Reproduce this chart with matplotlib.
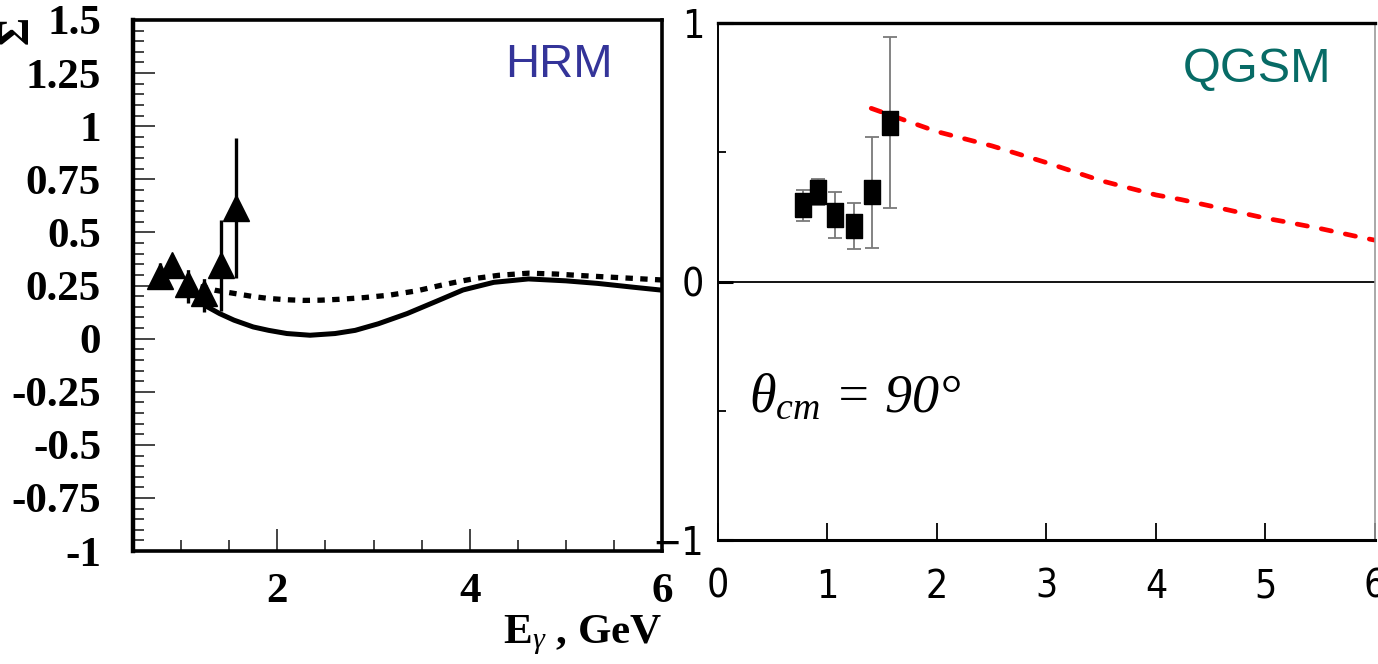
import matplotlib
matplotlib.use('Agg')
import matplotlib.pyplot as plt
from matplotlib.ticker import MultipleLocator, FixedLocator

plt.rcParams['mathtext.fontset'] = 'custom'
plt.rcParams['mathtext.rm'] = 'Liberation Serif'
plt.rcParams['mathtext.it'] = 'Liberation Serif:italic'
plt.rcParams['mathtext.bf'] = 'Liberation Serif:bold'

# measured points (same set on both panels)
E_data = [0.78, 0.91, 1.07, 1.24, 1.41, 1.57]
sig_data = [0.295, 0.345, 0.258, 0.215, 0.345, 0.615]
sig_err = [0.06, 0.05, 0.09, 0.09, 0.215, 0.33]

# HRM curves (left)
E_solid = [1.24, 1.40, 1.55, 1.75, 1.91, 2.10, 2.34, 2.60, 2.81, 3.05,
           3.35, 3.65, 3.93, 4.25, 4.61, 5.00, 5.33, 5.70, 6.00]
sig_solid = [0.158, 0.118, 0.087, 0.055, 0.039, 0.024, 0.016, 0.024, 0.039, 0.07,
             0.118, 0.175, 0.229, 0.265, 0.281, 0.272, 0.26, 0.242, 0.228]
E_dot = [1.20, 1.35, 1.55, 1.75, 1.91, 2.10, 2.27, 2.45, 2.64, 2.90, 3.17,
         3.45, 3.71, 3.90, 4.07, 4.30, 4.61, 4.90, 5.15, 5.60, 6.00]
sig_dot = [0.245, 0.228, 0.213, 0.198, 0.189, 0.183, 0.180, 0.181, 0.185, 0.193, 0.205,
           0.225, 0.252, 0.270, 0.284, 0.298, 0.308, 0.304, 0.297, 0.286, 0.276]

# QGSM curve (right)
E_qgsm = [1.40, 1.70, 2.00, 2.50, 3.00, 3.50, 4.00, 4.23, 4.50, 5.00, 5.17, 5.50, 5.88, 6.00]
sig_qgsm = [0.67, 0.625, 0.58, 0.525, 0.46, 0.39, 0.335, 0.317, 0.292, 0.245, 0.232, 0.205, 0.17, 0.16]

left_yticks = [-1, -0.75, -0.5, -0.25, 0, 0.25, 0.5, 0.75, 1, 1.25, 1.5]
left_yticklabels = ['-1', '-0.75', '-0.5', '-0.25', '0', '0.25', '0.5', '0.75', '1', '1.25', '1.5']

fig = plt.figure(figsize=(13.78, 6.64), dpi=100)

serif = 'Liberation Serif'
narrow = ['Liberation Sans Narrow', 'DejaVu Sans']

# ---------------- left panel: HRM ----------------
ax1 = fig.add_axes([0.0965, 0.170, 0.384, 0.800])
ax1.set_xlim(0.5, 6)
ax1.set_ylim(-1, 1.5)

ax1.plot(E_solid, sig_solid, color='black', lw=3.6, solid_capstyle='butt', zorder=2)
ax1.plot(E_dot, sig_dot, color='black', lw=3.8, dashes=(1.4, 1.4), zorder=2)

eb = ax1.errorbar(E_data, sig_data, yerr=sig_err, fmt='^', color='black', ms=19,
                  elinewidth=2.4, capsize=0, zorder=3)
eb[2][0].set_linestyles(['solid', 'solid', (0, (2, 2)), (0, (2, 2)), 'solid', 'solid'])

ax1.text(0.805, 0.915, 'HRM', transform=ax1.transAxes, ha='center', va='center',
         fontsize=34, color='#343499', family='Liberation Sans')

for s in ax1.spines.values():
    s.set_linewidth(2.6)
ax1.spines['left'].set_linewidth(3.2)

ax1.yaxis.set_major_locator(FixedLocator(left_yticks))
ax1.set_yticklabels(left_yticklabels)
ax1.yaxis.set_minor_locator(MultipleLocator(0.05))
ax1.xaxis.set_major_locator(FixedLocator([2, 4, 6]))
ax1.xaxis.set_minor_locator(MultipleLocator(0.5))
ax1.tick_params(which='both', direction='in', top=False, right=False)
ax1.tick_params(which='major', length=16, width=1.4, color='#444444')
ax1.tick_params(which='minor', length=8, width=1.4, color='#444444')
ax1.tick_params(axis='y', which='major', pad=23)
ax1.tick_params(axis='x', which='major', pad=16)
for lab in ax1.get_xticklabels() + ax1.get_yticklabels():
    lab.set_fontfamily(serif)
    lab.set_fontweight('bold')
    lab.set_fontsize(31)

ax1.set_xlabel(r'E$_{\gamma}$ , GeV', fontsize=31, fontweight='bold', family=serif,
               loc='right')
ax1.xaxis.set_label_coords(1.0, -0.118)
fig.text(0.013, 0.955, 'Σ', rotation=90, ha='center', va='center', fontsize=31,
         fontweight='bold', family=serif)

# ---------------- right panel: QGSM ----------------
ax2 = fig.add_axes([0.521, 0.1867, 0.4768, 0.7786])
ax2.set_xlim(0, 6)
ax2.set_ylim(-1, 1)

ax2.axhline(0, color='black', lw=1.3, zorder=1)
ax2.plot(E_qgsm, sig_qgsm, color='#ff0000', lw=3.4, dashes=(2.2, 3.0),
         dash_capstyle='round', zorder=2)

rect = [(-0.66, -1), (0.66, -1), (0.66, 1), (-0.66, 1), (-0.66, -1)]
eb2 = ax2.errorbar(E_data, sig_data, yerr=sig_err, fmt='none', ecolor='#7a7a7a',
                   elinewidth=1.3, capsize=5, capthick=1.3, zorder=3)
for c in eb2[1]:
    c.set_color('black')
ax2.plot(E_data, sig_data, ls='none', marker=rect, ms=17, color='black', zorder=4)

ax2.text(0.82, 0.91, 'QGSM', transform=ax2.transAxes, ha='center', va='center',
         fontsize=35, color='#076b66', family='Liberation Sans')
ax2.text(0.047, 0.275, r'$\theta_{cm}$ = 90°', transform=ax2.transAxes,
         ha='left', va='center', fontsize=39, family=serif, style='italic')

ax2.spines['top'].set_linewidth(2.4)
ax2.spines['bottom'].set_linewidth(2.2)
ax2.spines['left'].set_linewidth(1.4)
ax2.spines['right'].set_linewidth(1.2)
ax2.spines['right'].set_color('#999999')

ax2.yaxis.set_major_locator(FixedLocator([-1, 0, 1]))
ax2.yaxis.set_minor_locator(FixedLocator([-0.5, 0.5]))
ax2.xaxis.set_major_locator(FixedLocator([0, 1, 2, 3, 4, 5, 6]))
ax2.tick_params(which='both', direction='in', top=False, right=False)
ax2.tick_params(axis='y', which='major', length=11, width=2.2, pad=10)
ax2.tick_params(axis='y', which='minor', length=6, width=1.3)
ax2.tick_params(axis='x', which='major', length=12, width=1.3, pad=20)
for lab in ax2.get_xticklabels() + ax2.get_yticklabels():
    lab.set_fontfamily(narrow)
    lab.set_fontstretch('condensed')
    lab.set_fontsize(28)

fig.savefig('out.png', dpi=100)
